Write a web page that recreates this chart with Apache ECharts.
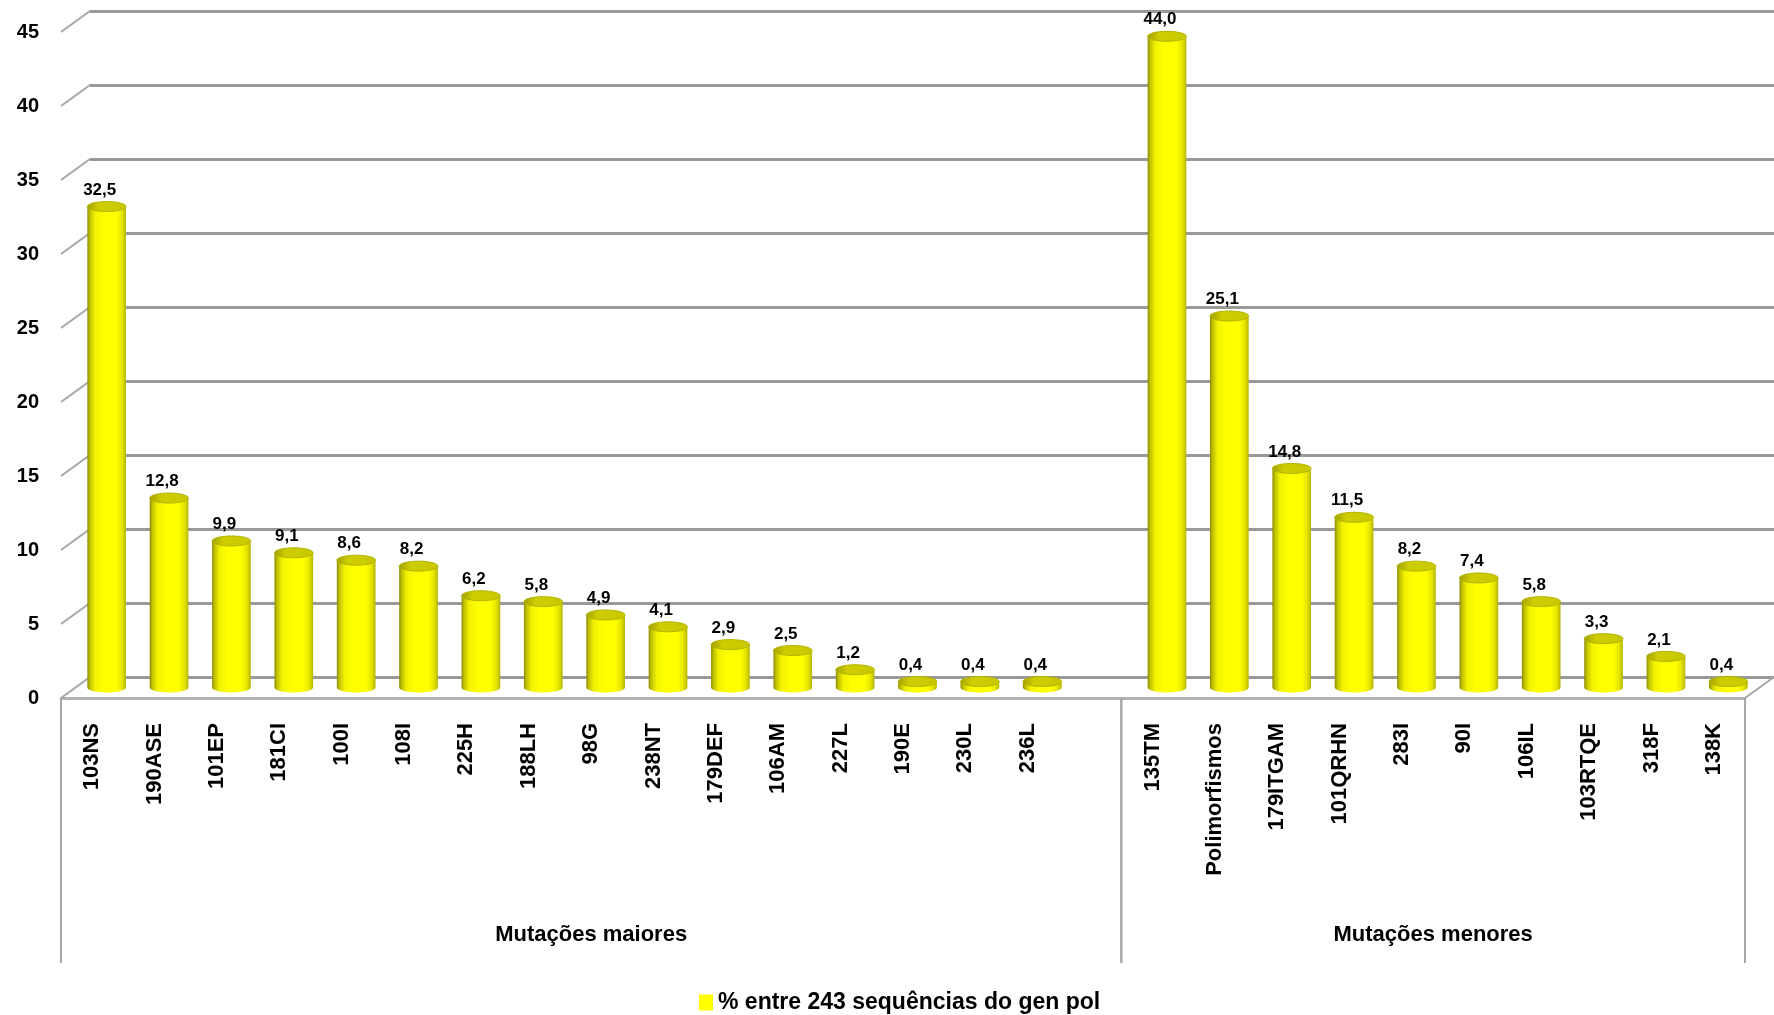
<!DOCTYPE html>
<html>
<head>
<meta charset="utf-8">
<script src="https://cdn.jsdelivr.net/npm/echarts@6/dist/echarts.min.js"></script>
<style>
  html, body { margin: 0; padding: 0; background: #ffffff; }
  #chart { width: 1774px; height: 1015px; }
</style>
</head>
<body>
<div id="chart"></div>
<script>
// Mutation categories (an empty slot separates the two groups)
const categories = [
  '103NS', '190ASE', '101EP', '181CI', '100I', '108I', '225H', '188LH', '98G',
  '238NT', '179DEF', '106AM', '227L', '190E', '230L', '236L', '',
  '135TM', 'Polimorfismos', '179ITGAM', '101QRHN', '283I', '90I', '106IL',
  '103RTQE', '318F', '138K'
];
// Percentage among 243 pol gene sequences
const values = [
  32.5, 12.8, 9.9, 9.1, 8.6, 8.2, 6.2, 5.8, 4.9,
  4.1, 2.9, 2.5, 1.2, 0.4, 0.4, 0.4, null,
  44.0, 25.1, 14.8, 11.5, 8.2, 7.4, 5.8,
  3.3, 2.1, 0.4
];
// Second-level category groups: [first slot, slot after last]
const groupNames = ['Mutações maiores', 'Mutações menores'];
const groupStart = [0, 17];
const groupEnd = [17, 27];
const yTicks = [0, 5, 10, 15, 20, 25, 30, 35, 40, 45];
const seriesName = '% entre 243 sequências do gen pol';

const FONT = '"Liberation Sans", Arial, sans-serif';
const DEPTH_X = 29;   // back wall offset relative to the front plane
const DEPTH_Y = -21;
const LINE_GRAY = '#a6a6a6';

function fmt(v) { return v.toFixed(1).replace('.', ','); }

function ellipsePoints(cx, cy, rx, ry, t0, t1, n) {
  const pts = [];
  for (let k = 0; k <= n; k++) {
    const t = t0 + (t1 - t0) * k / n;
    pts.push([cx + rx * Math.cos(t), cy + ry * Math.sin(t)]);
  }
  return pts;
}

// 3D-looking cylinder standing halfway between front plane and back wall
function renderCylinder(params, api) {
  const idx = api.value(0);
  const v = api.value(1);
  const base = api.coord([idx, 0]);
  const top = api.coord([idx, v]);
  const slot = api.size([1, 0])[0];
  const rx = slot * 0.31;
  const ry = 5;
  const xc = base[0] + DEPTH_X / 2;
  const yb = base[1] + DEPTH_Y / 2;
  const yt = top[1] + DEPTH_Y / 2;

  const body = [[xc - rx, yt], [xc - rx, yb]]
    .concat(ellipsePoints(xc, yb, rx, ry, Math.PI, 0, 24))
    .concat([[xc + rx, yt]]);
  const cap = ellipsePoints(xc, yt, rx, ry, 0, Math.PI * 2, 48);

  return {
    type: 'group',
    children: [
      {
        type: 'polygon',
        shape: { points: body },
        style: {
          fill: new echarts.graphic.LinearGradient(0, 0, 1, 0, [
            { offset: 0, color: '#8c8c00' },
            { offset: 0.07, color: '#c2c200' },
            { offset: 0.2, color: '#f2f200' },
            { offset: 0.42, color: '#ffff00' },
            { offset: 0.75, color: '#ffff00' },
            { offset: 0.9, color: '#e4e400' },
            { offset: 1, color: '#b4b400' }
          ])
        }
      },
      {
        type: 'polygon',
        shape: { points: cap },
        style: {
          fill: new echarts.graphic.LinearGradient(0, 0, 1, 0, [
            { offset: 0, color: '#a0a000' },
            { offset: 0.3, color: '#cdcd00' },
            { offset: 1, color: '#c8c800' }
          ]),
          stroke: '#b4b400',
          lineWidth: 1
        }
      },
      {
        type: 'text',
        style: {
          x: xc - 7,
          y: yt - 8,
          text: fmt(v),
          align: 'center',
          verticalAlign: 'bottom',
          fontFamily: FONT,
          fontWeight: 'bold',
          fontSize: 17,
          fill: '#000000'
        }
      }
    ]
  };
}

// Slanted tick lines on the left side wall, plus the right floor edge
function renderWall(params, api) {
  const v = api.value(1);
  const p = api.coord([0, v]);
  const half = api.size([1, 0])[0] / 2;
  const x0 = p[0] - half;
  const children = [{
    type: 'line',
    shape: { x1: x0, y1: p[1], x2: x0 + DEPTH_X, y2: p[1] + DEPTH_Y },
    style: { stroke: LINE_GRAY, lineWidth: 2 }
  }];
  if (v === 0) {
    const q = api.coord([categories.length - 1, 0]);
    const x1 = q[0] + half;
    children.push({
      type: 'line',
      shape: { x1: x1, y1: q[1], x2: x1 + DEPTH_X, y2: q[1] + DEPTH_Y },
      style: { stroke: LINE_GRAY, lineWidth: 2 }
    });
  }
  return { type: 'group', children: children };
}

// Group boxes and names below the category labels
function renderGroup(params, api) {
  const s = api.value(0);
  const e = api.value(2);
  const half = api.size([1, 0])[0] / 2;
  const xs = api.coord([s, 0])[0] - half;
  const xe = api.coord([e - 1, 0])[0] + half;
  const y0 = api.coord([0, 0])[1];
  const y1 = y0 + 265;
  return {
    type: 'group',
    children: [
      { type: 'line', shape: { x1: xs, y1: y0, x2: xs, y2: y1 }, style: { stroke: LINE_GRAY, lineWidth: 2 } },
      { type: 'line', shape: { x1: xe, y1: y0, x2: xe, y2: y1 }, style: { stroke: LINE_GRAY, lineWidth: 2 } },
      {
        type: 'text',
        style: {
          x: (xs + xe) / 2,
          y: y0 + 237,
          text: groupNames[params.dataIndex],
          align: 'center',
          verticalAlign: 'middle',
          fontFamily: FONT,
          fontWeight: 'bold',
          fontSize: 22,
          fill: '#000000'
        }
      }
    ]
  };
}

const barData = [];
values.forEach(function (v, i) { if (v !== null) barData.push([i, v]); });
const groupData = groupStart.map(function (s, i) { return [s, 0, groupEnd[i]]; });

const chart = echarts.init(document.getElementById('chart'), null, { renderer: 'canvas' });
chart.setOption({
  animation: false,
  backgroundColor: '#ffffff',
  grid: [
    { left: 90, right: 0, top: 11, bottom: 338 },   // back wall
    { left: 61, right: 29, top: 32, bottom: 317 }   // front plane
  ],
  xAxis: [
    { gridIndex: 0, type: 'category', data: categories, show: false },
    {
      gridIndex: 1, type: 'category', data: categories,
      axisLine: { lineStyle: { color: '#b3b3b3', width: 3 } },
      axisTick: { show: false },
      axisLabel: {
        interval: 0, rotate: 90, margin: 25,
        fontFamily: FONT, fontWeight: 'bold', fontSize: 22, color: '#000000'
      }
    }
  ],
  yAxis: [
    {
      gridIndex: 0, type: 'value', min: 0, max: 45, interval: 5,
      axisLabel: { show: false }, axisLine: { show: false }, axisTick: { show: false },
      splitLine: { lineStyle: { color: '#999999', width: 3 } }
    },
    {
      gridIndex: 1, type: 'value', min: 0, max: 45, interval: 5,
      axisLine: { show: false }, axisTick: { show: false }, splitLine: { show: false },
      axisLabel: {
        margin: 22, padding: [5, 0, 0, 0],
        fontFamily: FONT, fontWeight: 'bold', fontSize: 20, color: '#000000'
      }
    }
  ],
  legend: {
    data: [seriesName],
    left: 694, top: 986,
    icon: 'rect', itemWidth: 14, itemHeight: 16, itemGap: 6,
    selectedMode: false,
    textStyle: { fontFamily: FONT, fontWeight: 'bold', fontSize: 23, color: '#000000' }
  },
  series: [
    {
      type: 'custom', name: 'wall', silent: true,
      xAxisIndex: 1, yAxisIndex: 1,
      data: yTicks.map(function (v) { return [0, v]; }),
      renderItem: renderWall
    },
    {
      type: 'custom', name: 'groups', silent: true,
      xAxisIndex: 1, yAxisIndex: 1,
      encode: { x: 0, y: 1 },
      data: groupData,
      renderItem: renderGroup
    },
    {
      type: 'custom', name: seriesName, silent: true,
      xAxisIndex: 1, yAxisIndex: 1,
      itemStyle: { color: '#ffff00' },
      data: barData,
      renderItem: renderCylinder
    }
  ]
});
</script>
</body>
</html>
